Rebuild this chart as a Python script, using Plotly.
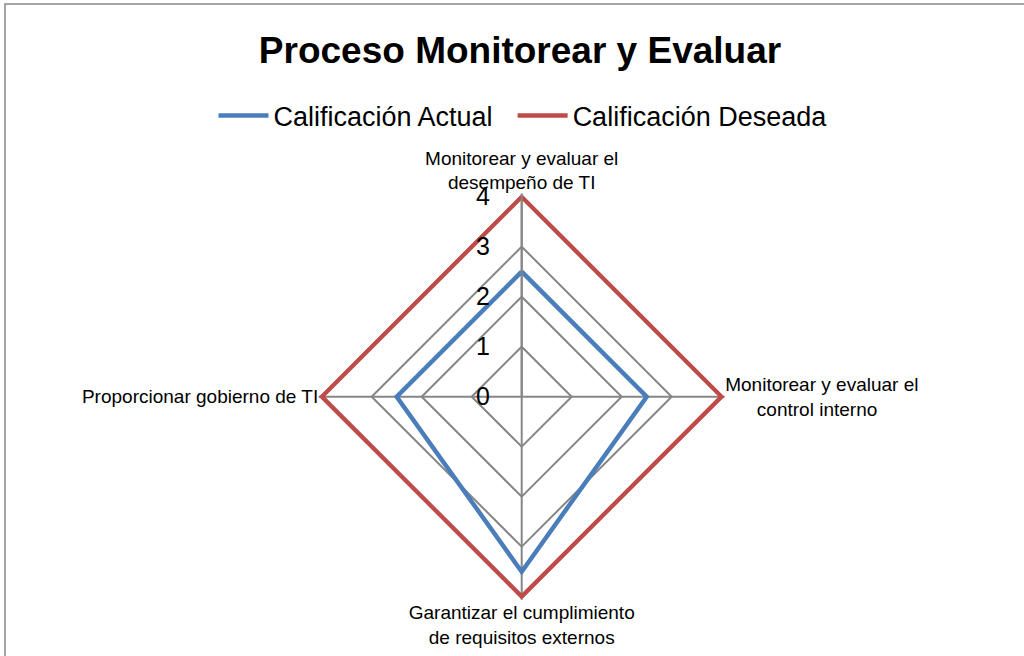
import plotly.graph_objects as go

# categories (clockwise from the top) and series values
categorias = [
    'Monitorear y evaluar el<br>desempeño de TI',
    'Monitorear y evaluar el<br>\u00a0\u00a0\u00a0\u00a0\u00a0\u00a0control interno',
    'Garantizar el cumplimiento<br>de requisitos externos',
    'Proporcionar gobierno de TI',
]
calif_actual = [2.5, 2.5, 3.5, 2.5]
calif_deseada = [4, 4, 4, 4]
radial_ticks = [0, 1, 2, 3, 4]

FONT = 'Liberation Sans, Arial, sans-serif'
W, H = 1024, 656

# close the polygons
theta = categorias + categorias[:1]

fig = go.Figure()
fig.add_trace(go.Scatterpolar(
    r=calif_actual + calif_actual[:1],
    theta=theta,
    mode='lines',
    name='Calificación Actual\u00a0\u00a0',  # a little extra gap before the next entry
    line=dict(color='#4A7EBB', width=4.5),
))
fig.add_trace(go.Scatterpolar(
    r=calif_deseada + calif_deseada[:1],
    theta=theta,
    mode='lines',
    name='Calificación Deseada',
    line=dict(color='#BE4B48', width=4.5),
))

# polar area in pixels: center (521.7, 396.7), r=4 at 200 px
# the range goes a little past 4 so the outer red line is not clipped
r_max = 4.06
cx, cy, rad = 521.7, 396.7, 200 * r_max / 4

fig.update_layout(
    width=W, height=H,
    margin=dict(l=0, r=0, t=0, b=0),
    paper_bgcolor='white',
    plot_bgcolor='white',
    font=dict(family=FONT, color='black'),
    title=dict(
        text='<b>Proceso Monitorear y Evaluar</b>',
        x=520 / W, xanchor='center',
        y=1 - 50 / H, yanchor='middle',
        font=dict(size=37, family=FONT, color='black'),
    ),
    showlegend=True,
    legend=dict(
        orientation='h',
        x=523 / W, xanchor='center',
        y=1 - 116 / H, yanchor='middle',
        font=dict(size=27, family=FONT, color='black'),
        itemwidth=50,
        bgcolor='rgba(0,0,0,0)',
    ),
    polar=dict(
        domain=dict(
            x=[(cx - rad) / W, (cx + rad) / W],
            y=[(H - cy - rad) / H, (H - cy + rad) / H],
        ),
        bgcolor='white',
        gridshape='linear',
        radialaxis=dict(
            range=[0, r_max],
            tickvals=radial_ticks,
            angle=90,
            side='counterclockwise',
            tickangle=90,
            ticks='outside',
            ticklen=22,
            tickcolor='rgba(0,0,0,0)',
            tickfont=dict(size=25, family=FONT, color='black'),
            showgrid=True,
            gridcolor='#868686',
            gridwidth=1.5,
            showline=True,
            linecolor='#868686',
            linewidth=2,
        ),
        angularaxis=dict(
            rotation=90,
            direction='clockwise',
            ticks='',
            tickfont=dict(size=19, family=FONT, color='black'),
            showgrid=True,
            gridcolor='#868686',
            gridwidth=1.5,
            showline=False,
        ),
    ),
    shapes=[dict(
        type='rect', xref='paper', yref='paper',
        x0=5 / W, x1=1.02, y0=-0.02, y1=1 - 4 / H,
        line=dict(color='#888888', width=1.5),
        fillcolor='rgba(0,0,0,0)',
    )],
)

# drop the default page margin so the figure sits at the window's corner
fig.write_html('out.html', config={'displayModeBar': False},
               post_script="document.body.style.margin='0';")
